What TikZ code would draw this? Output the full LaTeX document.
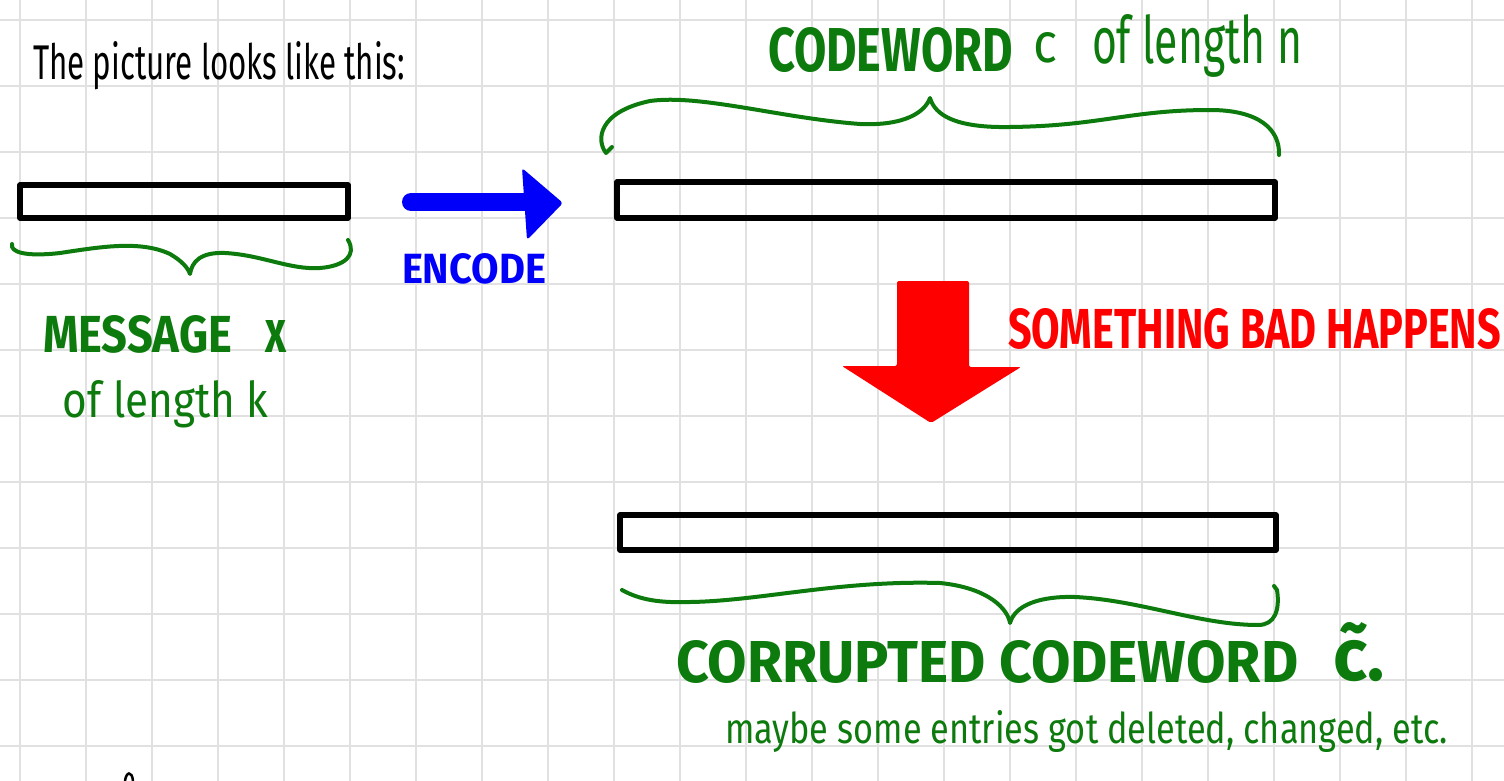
\documentclass[tikz,border=0pt]{standalone}
\usepackage{graphicx}
\usepackage{fontspec}
\setmainfont{Fira Sans}
\definecolor{penGreen}{RGB}{12,122,12}
\definecolor{penBlue}{RGB}{0,0,250}
\definecolor{penRed}{RGB}{255,0,0}
\definecolor{gridGray}{RGB}{225,225,225}
\begin{document}
\begin{tikzpicture}[x=1pt,y=-1pt,
  gridl/.style={gridGray,line width=2.2},
  bar/.style={draw=black,line width=5.5,line join=round,inner sep=0,fill=none},
  brace/.style={draw=penGreen,line width=4,line cap=round,line join=round},
  txt/.style={inner sep=0,outer sep=0,anchor=base west},
]
\useasboundingbox (0,0) rectangle (1504,781);
\fill[white] (0,0) rectangle (1504,781);
% grid
\foreach \x in {20,86,...,1504} \draw[gridl] (\x,0) -- (\x,781);
\foreach \y in {20,86,...,781} \draw[gridl] (0,\y) -- (1504,\y);

% title
\node[txt,black] (title) at (33,80) {\resizebox{372pt}{38pt}{The picture looks like this:}};

% message box and brace
\node[bar,minimum width=328,minimum height=33] (msg) at (184,201.5) {};
\draw[brace] (12,244) .. controls (10,252) and (25,257) .. (60,253)
  .. controls (100,247) and (140,240) .. (170,254)
  .. controls (182,261) and (188,268) .. (190,274)
  .. controls (192,262) and (200,252) .. (225,253)
  .. controls (262,255) and (290,270) .. (320,268)
  .. controls (345,266) and (357,255) .. (348,240);
\node[txt,text=penGreen,font=\bfseries] (msglabel) at (43,352) {\resizebox{189pt}{37pt}{MESSAGE}};
\node[txt,text=penGreen,font=\bfseries] (msgvar) at (265,352) {\resizebox{21pt}{32pt}{x}};
\node[txt,text=penGreen] (msglen) at (63,417) {\resizebox{205pt}{37pt}{of length k}};

% encode arrow
\draw[penBlue,line width=18,line cap=round] (411,202) -- (528,202);
\fill[penBlue,rounded corners=3] (522,168) -- (563,203) -- (527,240) -- cycle;
\node[txt,text=penBlue,font=\bfseries] (enc) at (402,283) {\resizebox{144pt}{30pt}{ENCODE}};

% codeword box and brace
\node[bar,minimum width=658,minimum height=36] (cw) at (946,200) {};
\draw[brace] (612,147) -- (606,153) .. controls (596,140) and (598,112) .. (650,101)
  .. controls (700,94) and (780,118) .. (860,124)
  .. controls (905,126) and (925,112) .. (930,98)
  .. controls (935,115) and (955,128) .. (1010,127)
  .. controls (1100,126) and (1130,110) .. (1210,110)
  .. controls (1260,110) and (1280,130) .. (1279,155);
\node[txt,text=penGreen,font=\bfseries] (cwlabel) at (768,72) {\resizebox{245pt}{44pt}{CODEWORD}};
\node[txt,text=penGreen] (cwvar) at (1033,63) {\resizebox{24pt}{30pt}{c}};
\node[txt,text=penGreen] (cwlen) at (1092,64) {\resizebox{210pt}{49pt}{of length n}};

% something bad happens
\fill[penRed,rounded corners=2] (897,281) -- (969,281) -- (969,367) -- (1021,367)
  -- (931,423) -- (842,366) -- (897,366) -- cycle;
\node[txt,text=penRed,font=\bfseries] (bad) at (1008,348) {\resizebox{493pt}{40pt}{SOMETHING BAD HAPPENS}};

% corrupted codeword box and brace
\node[bar,minimum width=656,minimum height=35] (ccw) at (948,532.5) {};
\draw[brace] (622,590) .. controls (640,600) and (660,603) .. (690,602)
  .. controls (760,601) and (840,580) .. (940,583)
  .. controls (990,588) and (1008,610) .. (1010,623)
  .. controls (1015,605) and (1040,596) .. (1075,597)
  .. controls (1140,600) and (1200,625) .. (1258,625)
  .. controls (1275,625) and (1280,610) .. (1277,590) -- (1274,586);
\node[txt,text=penGreen,font=\bfseries] (ccwlabel) at (676,682) {\resizebox{622pt}{42pt}{CORRUPTED CODEWORD}};
\node[txt,text=penGreen,font=\bfseries] (ccwvar) at (1333,680) {\resizebox{52pt}{58pt}{\~{c}.}};
\node[txt,text=penGreen] (note) at (725,743) {\resizebox{723pt}{33pt}{maybe some entries got deleted, changed, etc.}};

% stray stroke at bottom edge
\draw[black,line width=2.5,line cap=round] (125,781) .. controls (126,772) and (132,770) .. (133,781);
\end{tikzpicture}
\end{document}
